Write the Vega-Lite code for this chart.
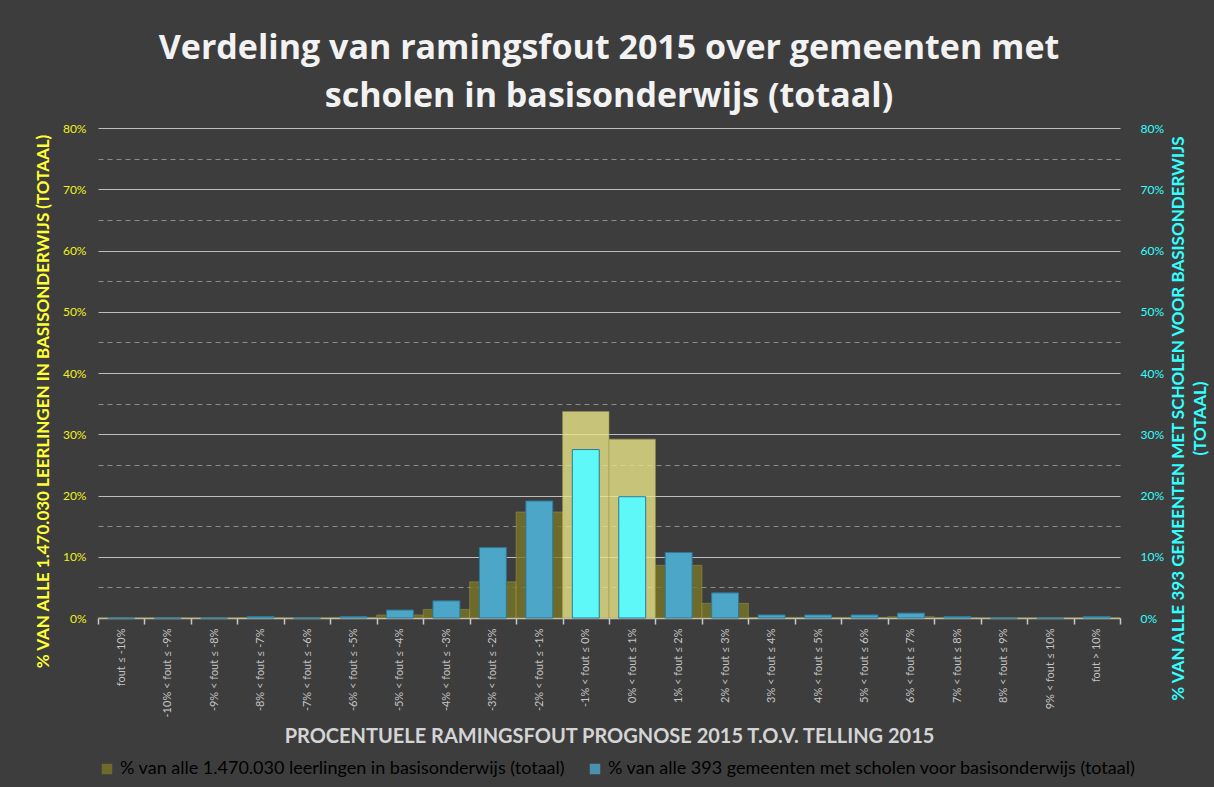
{
  "$schema": "https://vega.github.io/schema/vega-lite/v6.json",
  "width": 1022,
  "height": 490,
  "autosize": {"type": "none"},
  "padding": {"left": 98, "top": 128, "right": 94, "bottom": 169},
  "background": "#3d3d3d",
  "config": {
    "view": {"stroke": null},
    "font": "Lato"
  },
  "title": {
    "text": ["Verdeling van ramingsfout 2015 over gemeenten met", "scholen in basisonderwijs (totaal)"],
    "font": "Open Sans",
    "fontSize": 34,
    "fontWeight": "bold",
    "color": "#f2f2f2",
    "lineHeight": 48,
    "anchor": "middle",
    "offset": 8
  },
  "data": {
    "values": [
      {"fout": "fout ≤ -10%", "leerlingen": 0, "gemeenten": 0},
      {"fout": "-10% < fout ≤ -9%", "leerlingen": 0, "gemeenten": 0},
      {"fout": "-9% < fout ≤ -8%", "leerlingen": 0, "gemeenten": 0},
      {"fout": "-8% < fout ≤ -7%", "leerlingen": 0.05, "gemeenten": 0.25},
      {"fout": "-7% < fout ≤ -6%", "leerlingen": 0, "gemeenten": 0},
      {"fout": "-6% < fout ≤ -5%", "leerlingen": 0.1, "gemeenten": 0.25},
      {"fout": "-5% < fout ≤ -4%", "leerlingen": 0.5, "gemeenten": 1.3},
      {"fout": "-4% < fout ≤ -3%", "leerlingen": 1.4, "gemeenten": 2.8},
      {"fout": "-3% < fout ≤ -2%", "leerlingen": 5.9, "gemeenten": 11.5},
      {"fout": "-2% < fout ≤ -1%", "leerlingen": 17.3, "gemeenten": 19.1},
      {"fout": "-1% < fout ≤ 0%", "leerlingen": 33.7, "gemeenten": 27.5},
      {"fout": "0% < fout ≤ 1%", "leerlingen": 29.2, "gemeenten": 19.8},
      {"fout": "1% < fout ≤ 2%", "leerlingen": 8.6, "gemeenten": 10.7},
      {"fout": "2% < fout ≤ 3%", "leerlingen": 2.4, "gemeenten": 4.1},
      {"fout": "3% < fout ≤ 4%", "leerlingen": 0.1, "gemeenten": 0.5},
      {"fout": "4% < fout ≤ 5%", "leerlingen": 0.1, "gemeenten": 0.5},
      {"fout": "5% < fout ≤ 6%", "leerlingen": 0.1, "gemeenten": 0.5},
      {"fout": "6% < fout ≤ 7%", "leerlingen": 0.2, "gemeenten": 0.8},
      {"fout": "7% < fout ≤ 8%", "leerlingen": 0.02, "gemeenten": 0.25},
      {"fout": "8% < fout ≤ 9%", "leerlingen": 0, "gemeenten": 0},
      {"fout": "9% < fout ≤ 10%", "leerlingen": 0, "gemeenten": 0},
      {"fout": "fout > 10%", "leerlingen": 0.02, "gemeenten": 0.25}
    ]
  },
  "encoding": {
    "x": {
      "field": "fout",
      "type": "nominal",
      "sort": null,
      "scale": {"paddingInner": 0, "paddingOuter": 0},
      "axis": {
        "title": "PROCENTUELE RAMINGSFOUT PROGNOSE 2015 T.O.V. TELLING 2015",
        "titleFont": "Lato",
        "titleFontSize": 20,
        "titleFontWeight": "bold",
        "titleColor": "#d4d4d4",
        "titlePadding": 10,
        "labelAngle": -90,
        "labelFont": "Lato",
        "labelFontSize": 11,
        "labelColor": "#c4c4c4",
        "labelPadding": 4,
        "labelLimit": 200,
        "tickBand": "extent",
        "ticks": true,
        "tickSize": 6,
        "tickColor": "#c8c8c8",
        "tickWidth": 1.5,
        "domain": true,
        "domainColor": "#c8c8c8",
        "domainWidth": 1.5,
        "grid": false
      }
    }
  },
  "layer": [
    {
      "mark": {"type": "bar", "opacity": 0.8, "stroke": "#a8a450", "strokeWidth": 1, "strokeOpacity": 0.6},
      "encoding": {
        "y": {
          "field": "leerlingen",
          "type": "quantitative",
          "scale": {"domain": [0, 80], "nice": false},
          "axis": {
            "orient": "left",
            "title": "% VAN ALLE 1.470.030 LEERLINGEN IN BASISONDERWIJS (TOTAAL)",
            "titleFont": "Lato",
            "titleFontSize": 17,
            "titleFontWeight": "bold",
            "titleColor": "#ffff33",
            "titlePadding": 10,
            "titleY": 273,
            "values": [0, 5, 10, 15, 20, 25, 30, 35, 40, 45, 50, 55, 60, 65, 70, 75, 80],
            "labelExpr": "datum.value % 10 == 0 ? datum.value + '%' : ''",
            "labelFont": "Lato",
            "labelFontSize": 12,
            "labelColor": "#f0f020",
            "labelPadding": 12,
            "ticks": false,
            "domain": false,
            "grid": true,
            "gridColor": {"condition": {"test": "datum.value % 10 != 0", "value": "#8c8c8c"}, "value": "#bdbdbd"},
            "gridDash": {"condition": {"test": "datum.value % 10 != 0", "value": [5, 4]}, "value": []},
            "gridWidth": 1
          }
        },
        "color": {
          "condition": {"test": "datum.fout == '-1% < fout ≤ 0%' || datum.fout == '0% < fout ≤ 1%'", "value": "#eae68a"},
          "datum": "% van alle 1.470.030 leerlingen in basisonderwijs (totaal)",
          "scale": {
            "domain": ["% van alle 1.470.030 leerlingen in basisonderwijs (totaal)", "% van alle 393 gemeenten met scholen voor basisonderwijs (totaal)"],
            "range": ["#7a7626", "#4ca6c8"]
          },
          "legend": {
            "title": null,
            "orient": "bottom",
            "direction": "horizontal",
            "offset": 13,
            "symbolType": "square",
            "symbolSize": 110,
            "symbolStrokeWidth": 0,
            "labelFont": "Lato",
            "labelFontSize": 18,
            "labelLimit": 700,
            "labelOffset": 4,
            "columnPadding": 20,
            "encode": {
              "labels": {
                "update": {
                  "fill": {"signal": "indexof(datum.value, 'leerlingen') >= 0 ? '#ffff33' : '#33ffff'"}
                }
              }
            }
          }
        }
      }
    },
    {
      "mark": {"type": "bar", "width": {"band": 0.58}, "stroke": "#2d7896", "strokeWidth": 1},
      "encoding": {
        "y": {
          "field": "gemeenten",
          "type": "quantitative",
          "scale": {"domain": [0, 80], "nice": false},
          "axis": {
            "orient": "right",
            "title": ["% VAN ALLE 393 GEMEENTEN MET SCHOLEN VOOR BASISONDERWIJS", "(TOTAAL)"],
            "titleFont": "Lato",
            "titleFontSize": 17,
            "titleFontWeight": "bold",
            "titleColor": "#33ffff",
            "titleAngle": 270,
            "titleLineHeight": 22,
            "titlePadding": 2,
            "titleY": 290,
            "values": [0, 10, 20, 30, 40, 50, 60, 70, 80],
            "labelExpr": "datum.value + '%'",
            "labelFont": "Lato",
            "labelFontSize": 12,
            "labelColor": "#33ffff",
            "labelPadding": 20,
            "ticks": false,
            "domain": false,
            "grid": false
          }
        },
        "color": {
          "condition": {"test": "datum.fout == '-1% < fout ≤ 0%' || datum.fout == '0% < fout ≤ 1%'", "value": "#5ff8f8"},
          "datum": "% van alle 393 gemeenten met scholen voor basisonderwijs (totaal)"
        }
      }
    }
  ],
  "resolve": {"scale": {"y": "shared"}, "axis": {"y": "independent"}}
}
